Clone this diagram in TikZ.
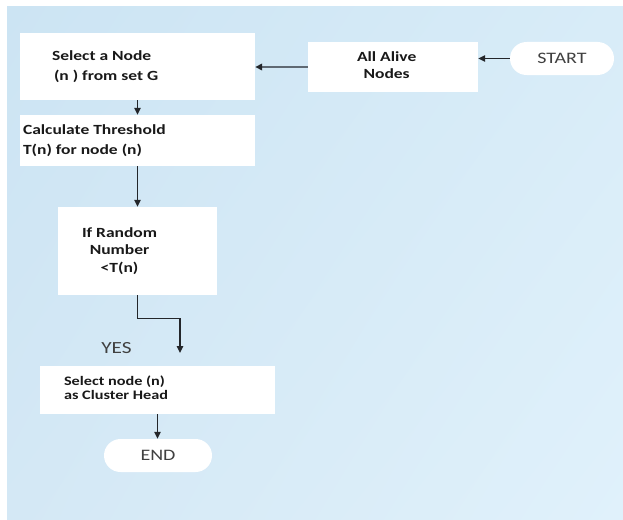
\documentclass[tikz,border=0pt]{standalone}
\usepackage{fontspec}
\setmainfont{Carlito}[FakeStretch=1.25]
\usetikzlibrary{arrows.meta,shadings}
\definecolor{bgUL}{RGB}{204,228,243}
\definecolor{bgUR}{RGB}{216,236,248}
\definecolor{bgLL}{RGB}{212,232,245}
\definecolor{bgLR}{RGB}{224,241,251}
\definecolor{ink}{RGB}{25,25,25}
\definecolor{soft}{RGB}{64,64,64}
\definecolor{arrowink}{RGB}{35,38,42}
\definecolor{grayline}{RGB}{95,105,115}
\newcommand\bxtext[4]{\makebox[#1][l]{\hspace*{#2}\begin{tabular}{@{}#3@{}}#4\end{tabular}}}
\begin{document}
\begin{tikzpicture}[x=1pt,y=-1pt,
  box/.style={fill=white, inner sep=0pt, text=ink},
  pill/.style={fill=white, inner sep=0pt, rounded corners=16.5pt, minimum width=104pt,
    minimum height=33pt, text=soft, font=\fontsize{16}{19}\selectfont},
  arr/.style={line width=1.3pt, draw=arrowink, -{Triangle[length=7pt,width=6.5pt,color=arrowink]}}]
\useasboundingbox (0,0) rectangle (623,519);
\fill[white] (0,0) rectangle (623,519);
\shade[upper left=bgUL, upper right=bgUR, lower left=bgLL, lower right=bgLR] (7,7) rectangle (623,519);

\node[box, minimum height=67pt, font=\fontsize{14}{20}\selectfont\bfseries] (sel) at (137.5,66.5)
  {\bxtext{235pt}{32pt}{l}{Select a Node\\\hspace*{2pt}(n ) from set G}};
\node[box, minimum height=50pt, font=\fontsize{14}{17}\selectfont\bfseries] (alive) at (393,67)
  {\bxtext{170pt}{49pt}{c}{All Alive\\Nodes}};
\node[box, minimum height=51pt, font=\fontsize{14}{20}\selectfont\bfseries] (calc) at (137.5,140.5)
  {\bxtext{235pt}{3pt}{l}{Calculate Threshold\\T(n) for node (n)}};
\node[box, minimum height=88pt, font=\fontsize{14}{17.5}\selectfont\bfseries] (rand) at (137.5,251)
  {\bxtext{159pt}{24pt}{c}{If Random\\Number\\<T(n)}};
\node[box, minimum height=48pt, font=\fontsize{13}{14}\selectfont\bfseries] (ch) at (157.5,390)
  {\bxtext{235pt}{24pt}{l}{Select node (n)\\as Cluster Head}};
\node[pill] (start) at (562,58.5) {START};
\node[pill, minimum width=108pt] (endn) at (158,455.5) {END};
\node[text=soft, font=\fontsize{17}{20}\selectfont, inner sep=0pt] (yes) at (116.5,348) {YES};
\coordinate (yestip) at (180,353);

\draw[arr] (start.west) -- (start.west -| alive.east);
\draw[arr, draw=grayline, line width=1.8pt] (alive.west) -- (alive.west -| sel.east);
\draw[arr] (sel.south) -- (calc.north);
\draw[arr] (calc.south) -- (rand.north);
\draw[arr] (rand.south) -- ++(0,23) -| (yestip);
\draw[arr] (ch.south) -- (ch.south |- endn.north);
\end{tikzpicture}
\end{document}
